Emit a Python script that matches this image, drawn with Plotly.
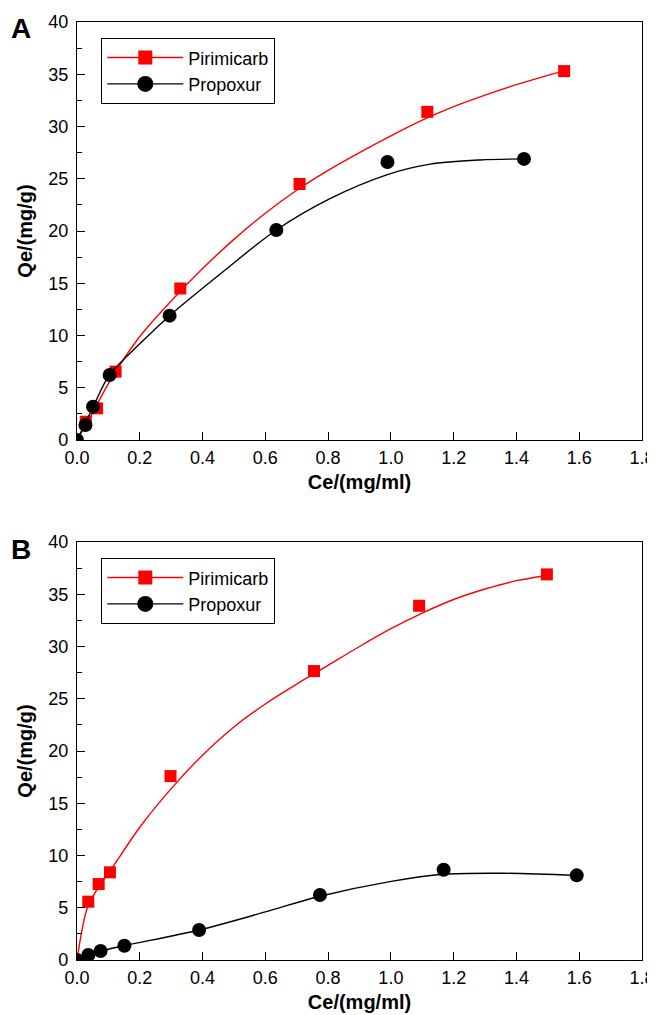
import plotly.graph_objects as go

# ---------------- data ----------------
# Panel A
a_pir_x = [0.028, 0.064, 0.123, 0.329, 0.709, 1.116, 1.552]
a_pir_y = [1.75, 3.03, 6.54, 14.5, 24.5, 31.4, 35.3]
a_pro_x = [0.0, 0.027, 0.051, 0.104, 0.295, 0.635, 0.989, 1.424]
a_pro_y = [0.0, 1.44, 3.19, 6.22, 11.9, 20.1, 26.6, 26.9]
# fitted curves
a_pir_fit_x = [0.0, 0.05, 0.1, 0.2, 0.3, 0.4, 0.5, 0.6, 0.7, 0.8, 0.9, 1.0, 1.1, 1.2, 1.3, 1.4, 1.5, 1.552]
a_pir_fit_y = [0.0, 2.6, 5.4, 9.9, 13.3, 16.4, 19.2, 21.7, 23.9, 25.8, 27.5, 29.1, 30.6, 31.9, 33.0, 34.0, 34.9, 35.3]
a_pro_fit_x = [0.0, 0.025, 0.052, 0.103, 0.2, 0.295, 0.465, 0.635, 0.806, 0.989, 1.125, 1.284, 1.424]
a_pro_fit_y = [0.0, 1.5, 3.2, 6.2, 9.2, 11.9, 16.1, 20.1, 23.1, 25.4, 26.4, 26.8, 26.9]

# Panel B
b_pir_x = [0.036, 0.069, 0.105, 0.298, 0.755, 1.09, 1.497]
b_pir_y = [5.58, 7.27, 8.39, 17.6, 27.65, 33.9, 36.9]
b_pro_x = [0.0, 0.036, 0.075, 0.151, 0.389, 0.774, 1.168, 1.592]
b_pro_y = [0.0, 0.48, 0.86, 1.37, 2.87, 6.22, 8.64, 8.1]
b_pir_fit_x = [0.0, 0.033, 0.069, 0.105, 0.2, 0.3, 0.4, 0.5, 0.6, 0.7, 0.8, 0.9, 1.0, 1.1, 1.2, 1.3, 1.4, 1.497]
b_pir_fit_y = [0.0, 5.0, 7.0, 8.5, 12.7, 16.4, 19.6, 22.3, 24.5, 26.4, 28.2, 30.0, 31.7, 33.2, 34.5, 35.5, 36.3, 36.8]
b_pro_fit_x = [0.0, 0.036, 0.075, 0.151, 0.389, 0.6, 0.774, 0.997, 1.168, 1.358, 1.592]
b_pro_fit_y = [0.0, 0.45, 0.85, 1.37, 2.87, 4.6, 6.1, 7.5, 8.2, 8.3, 8.1]

series_names = ["Pirimicarb", "Propoxur"]
x_ticks = [0.0, 0.2, 0.4, 0.6, 0.8, 1.0, 1.2, 1.4, 1.6, 1.8]
y_ticks = [0, 5, 10, 15, 20, 25, 30, 35, 40]
x_title = "Ce/(mg/ml)"
y_title = "Qe/(mg/g)"
panel_labels = ["A", "B"]

# ---------------- styling ----------------
FONT = "Arial, Liberation Sans, sans-serif"
RED = "#ff0000"
BLACK = "#000000"
OFF = 8  # default page body margin
W, H = 655 - OFF, 1015 - OFF
# plot-area edges in window pixels (reference)
LEFT, RIGHT, TOP, BOTTOM = 77, 642, 22, 960
L, R, T, B = LEFT - OFF, 655 - RIGHT, TOP - OFF, 1015 - BOTTOM
plot_w = W - L - R
plot_h = H - T - B


def py(pix):
    return (BOTTOM - pix) / plot_h


def px(pix):
    return (pix - LEFT) / plot_w


fig = go.Figure()

panels = [
    ("x", "y", "legend", (a_pir_fit_x, a_pir_fit_y, a_pir_x, a_pir_y),
     (a_pro_fit_x, a_pro_fit_y, a_pro_x, a_pro_y)),
    ("x2", "y2", "legend2", (b_pir_fit_x, b_pir_fit_y, b_pir_x, b_pir_y),
     (b_pro_fit_x, b_pro_fit_y, b_pro_x, b_pro_y)),
]

for xa, ya, lg, pir, pro in panels:
    for (fx, fy, mx, my), name, col, sym, size in [
        (pir, series_names[0], RED, "square", 12),
        (pro, series_names[1], BLACK, "circle", 14),
    ]:
        fig.add_trace(go.Scatter(x=fx, y=fy, mode="lines",
                                 line=dict(color=col, width=1.4, shape="spline", smoothing=0.9),
                                 xaxis=xa, yaxis=ya, showlegend=False, hoverinfo="skip"))
        fig.add_trace(go.Scatter(x=mx, y=my, mode="markers",
                                 marker=dict(color=col, symbol=sym, size=size, line=dict(width=0)),
                                 xaxis=xa, yaxis=ya, showlegend=False, name=name))
        # legend entry (line + marker)
        fig.add_trace(go.Scatter(x=[None], y=[None], mode="lines+markers", name=name,
                                 line=dict(color=col, width=1.4),
                                 marker=dict(color=col, symbol=sym, size=size + 2, line=dict(width=0)),
                                 xaxis=xa, yaxis=ya, legend=lg, showlegend=True))

axis_common = dict(
    range=[0, 1.8], tickvals=x_ticks, ticktext=[f"{v:.1f}" for v in x_ticks],
    ticks="inside", ticklen=8, tickwidth=1.3, tickcolor="black",
    showline=True, linecolor="black", linewidth=1.3, mirror=True,
    showgrid=False, zeroline=False, automargin=False,
    tickfont=dict(family=FONT, size=18, color="black"), ticklabelstandoff=1,
    title=dict(text=f"<b>{x_title}</b>", font=dict(family=FONT, size=20, color="black"), standoff=8),
)
yaxis_common = dict(
    range=[0, 40], tickvals=y_ticks,
    ticks="inside", ticklen=8, tickwidth=1.3, tickcolor="black",
    minor=dict(ticks="inside", ticklen=5, tickwidth=1.3, tickcolor="black", dtick=2.5, showgrid=False),
    showline=True, linecolor="black", linewidth=1.3, mirror=True,
    showgrid=False, zeroline=False, automargin=False,
    tickfont=dict(family=FONT, size=18, color="black"), ticklabelstandoff=4,
    title=dict(text=f"<b>{y_title}</b>", font=dict(family=FONT, size=20, color="black"), standoff=10),
)

legend_common = dict(xanchor="left", yanchor="top",
                     bordercolor="black", borderwidth=1.3, bgcolor="white",
                     font=dict(family=FONT, size=18, color="black"), itemwidth=76, tracegroupgap=0)

fig.update_layout(
    width=W, height=H,
    margin=dict(l=L, r=R, t=T, b=B),
    paper_bgcolor="white", plot_bgcolor="white",
    font=dict(family=FONT, color="black"),
    xaxis=dict(domain=[0, 1], anchor="y", **axis_common),
    yaxis=dict(domain=[py(440), 1], anchor="x", **yaxis_common),
    xaxis2=dict(domain=[0, 1], anchor="y2", **axis_common),
    yaxis2=dict(domain=[0, py(542)], anchor="x2", **yaxis_common),
    legend=dict(x=px(101), y=py(38), **legend_common),
    legend2=dict(x=px(101), y=py(558), **legend_common),
    showlegend=True,
)

for lab, ypix in zip(panel_labels, [28, 549]):
    fig.add_annotation(text=f"<b>{lab}</b>", xref="paper", yref="paper",
                       x=px(21), y=py(ypix), xanchor="center", yanchor="middle",
                       showarrow=False, font=dict(family=FONT, size=28, color="black"))

fig.write_html("out.html")
